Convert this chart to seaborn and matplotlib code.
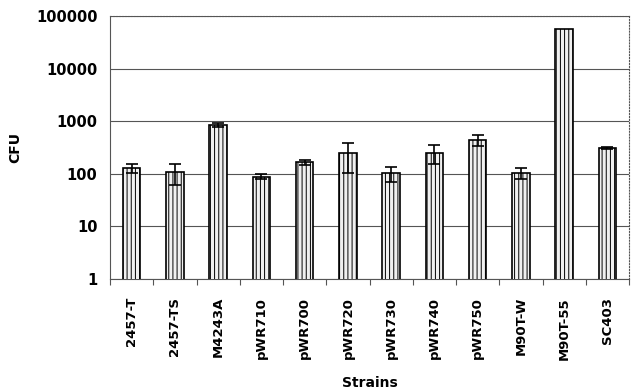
import matplotlib
matplotlib.use("Agg")
import matplotlib.pyplot as plt
import seaborn as sns
import numpy as np
import pandas as pd
from matplotlib.ticker import FixedLocator, NullFormatter

strains = ["2457-T", "2457-TS", "M4243A", "pWR710", "pWR700", "pWR720",
           "pWR730", "pWR740", "pWR750", "M90T-W", "M90T-55", "SC403"]
cfu = [130, 107, 850, 88, 165, 245, 102, 252, 444, 104, 56700, 315]
err = [25, 45, 60, 10, 15, 140, 32, 100, 105, 25, 0, 15]
yticks = [1, 10, 100, 1000, 10000, 100000]
ytick_labels = ["1", "10", "100", "1000", "10000", "100000"]

sns.set_style("white")
plt.rcParams["font.family"] = ["DejaVu Sans"]
plt.rcParams["text.color"] = "black"
plt.rcParams["axes.labelcolor"] = "black"
plt.rcParams["xtick.color"] = "black"
plt.rcParams["ytick.color"] = "black"
plt.rcParams["hatch.color"] = "#9a9a9a"
plt.rcParams["hatch.linewidth"] = 0.7

df = pd.DataFrame({"Strains": strains, "CFU": cfu, "err": err})

fig = plt.figure(figsize=(6.31, 3.91), dpi=100)
ax = fig.add_axes([110/631, 1 - 279/391, 519/631, 263/391])

sns.barplot(data=df, x="Strains", y="CFU", ax=ax, color="#f0f0f0",
            saturation=1, width=0.4, edgecolor="black", linewidth=1.2,
            errorbar=None, log_scale=(False, True), zorder=3)
for p in ax.patches:
    p.set_hatch("||||")
    p.set_zorder(3)

xs = np.arange(len(strains))
e = np.array(err, dtype=float)
mask = e > 0
ax.errorbar(xs[mask], np.array(cfu)[mask], yerr=e[mask], fmt="none",
            ecolor="black", elinewidth=1.2, capsize=4.5, capthick=1.2, zorder=4)

ax.set_yscale("log")
ax.set_ylim(1, 100000)
ax.set_xlim(-0.5, len(strains) - 0.5)
ax.yaxis.set_major_locator(FixedLocator(yticks))
ax.set_yticklabels(ytick_labels, fontsize=10.5, fontweight="bold")
ax.yaxis.set_minor_formatter(NullFormatter())
ax.tick_params(axis="y", which="both", length=0, pad=9)
ax.grid(axis="y", which="major", color="#555555", linewidth=0.8, zorder=0)
ax.set_axisbelow(True)

ax.set_xticks(xs)
ax.set_xticklabels(strains, rotation=90, fontsize=9.5, fontweight="bold")
ax.tick_params(axis="x", which="major", length=0, pad=13)
ax.set_xticks(np.arange(len(strains) + 1) - 0.5, minor=True)
ax.tick_params(axis="x", which="minor", length=4.5, width=0.8, color="#555555",
               direction="out", bottom=True)

for s in ax.spines.values():
    s.set_visible(True)
    s.set_color("#555555")
    s.set_linewidth(0.8)
ax.spines["top"].set_linestyle(":")
ax.spines["right"].set_linestyle(":")
ax.spines["top"].set_zorder(5)

ax.set_xlabel("Strains", fontsize=10, fontweight="bold", labelpad=12)
ax.set_ylabel("CFU", fontsize=10, fontweight="bold", labelpad=10)

fig.savefig("out.png", dpi=100)
